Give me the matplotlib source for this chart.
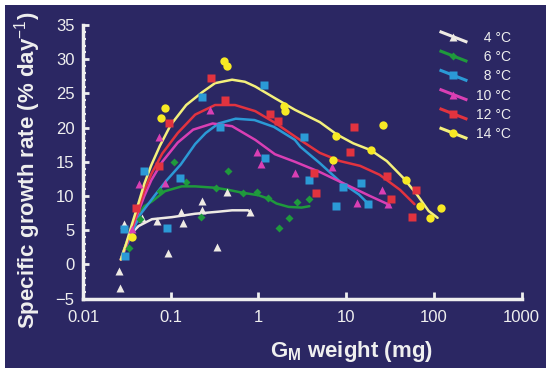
import matplotlib
matplotlib.use("Agg")
import matplotlib.pyplot as plt
from matplotlib.lines import Line2D
from matplotlib.patches import Rectangle
from matplotlib.legend_handler import HandlerBase
from matplotlib.ticker import FixedLocator, FixedFormatter, MultipleLocator

plt.rcParams['font.family'] = ['Liberation Sans', 'DejaVu Sans']
plt.rcParams['mathtext.fontset'] = 'custom'
plt.rcParams['mathtext.rm'] = 'Liberation Sans'
plt.rcParams['mathtext.bf'] = 'Liberation Sans:bold'

# ---- data: points (x in mg, growth in % per day) ----
x4 = [0.0264, 0.0258, 0.0296, 0.0467, 0.069, 0.092, 0.131, 0.139, 0.225, 0.225, 0.334, 0.435, 0.80]
y4 = [-3.4, -1.0, 5.9, 6.8, 6.3, 1.7, 7.6, 6.0, 9.3, 8.0, 2.6, 10.6, 7.7]
x6 = [0.0337, 0.045, 0.0745, 0.11, 0.15, 0.222, 0.326, 0.454, 0.665, 0.96, 1.27, 1.72, 2.2, 2.78, 3.75]
y6 = [2.4, 6.6, 10.7, 14.9, 12.1, 6.9, 11.2, 13.6, 10.4, 10.6, 9.65, 5.3, 6.75, 9.1, 9.6]
x8 = [0.030, 0.0296, 0.049, 0.09, 0.128, 0.23, 0.36, 1.15, 1.19, 3.3, 3.8, 7.7, 9.3, 14.8, 17.9]
y8 = [1.2, 5.1, 13.6, 5.3, 12.6, 24.5, 20.1, 26.2, 15.5, 18.6, 12.4, 8.6, 11.3, 11.9, 8.75]
x10 = [0.0365, 0.044, 0.073, 0.086, 0.28, 0.95, 1.06, 2.6, 6.8, 13.1, 25.4, 30.3]
y10 = [5.2, 11.8, 18.6, 11.9, 22.5, 16.4, 14.7, 13.4, 14.2, 8.9, 10.8, 8.8]
x12 = [0.040, 0.074, 0.096, 0.29, 0.41, 1.36, 1.68, 4.3, 4.5, 10.9, 12.4, 29, 32, 56, 63]
y12 = [8.2, 14.4, 20.7, 27.2, 24.1, 22.0, 20.9, 13.3, 10.4, 16.4, 20.1, 12.9, 9.6, 6.9, 10.9]
x14 = [0.0365, 0.077, 0.086, 0.40, 0.435, 1.97, 2.03, 7.0, 7.7, 19.1, 26.5, 48, 69, 91, 120]
y14 = [4.0, 21.4, 22.8, 29.8, 29.0, 23.2, 22.4, 15.2, 18.8, 16.7, 20.4, 12.3, 8.6, 6.8, 8.3]

# ---- fitted curves ----
fx4 = [0.027, 0.029, 0.032, 0.036, 0.043, 0.061, 0.103, 0.19, 0.35, 0.5, 0.76, 0.8]
fy4 = [0.7, 1.9, 3.4, 4.6, 5.6, 6.6, 6.9, 7.4, 7.7, 7.9, 7.9, 7.7]
fx6 = [0.027, 0.032, 0.038, 0.043, 0.05, 0.061, 0.086, 0.133, 0.19, 0.32, 0.45, 0.64, 1.0, 1.3, 1.6, 2.2, 3.1, 3.8]
fy6 = [0.7, 3.5, 5.8, 7.3, 8.5, 9.2, 10.7, 11.4, 11.4, 11.2, 10.9, 10.5, 10.1, 9.6, 8.9, 8.4, 8.3, 8.5]
fx8 = [0.027, 0.031, 0.036, 0.045, 0.065, 0.09, 0.13, 0.19, 0.25, 0.35, 0.55, 0.9, 1.5, 2.6, 3.0, 5.0, 8.5, 14, 18]
fy8 = [0.7, 2.5, 4.6, 7.3, 10.0, 12.3, 14.6, 17.6, 19.2, 20.6, 21.3, 21.1, 20.1, 18.2, 17.2, 14.8, 12.1, 10.2, 8.8]
fx10 = [0.027, 0.031, 0.036, 0.043, 0.05, 0.06, 0.08, 0.12, 0.18, 0.3, 0.5, 0.92, 1.54, 2.6, 5, 11, 18.6, 31]
fy10 = [0.7, 2.7, 5.0, 7.8, 10.0, 12.3, 15.0, 17.8, 19.7, 20.6, 20.2, 18.2, 16.1, 15.0, 13.5, 11.4, 10.0, 8.7]
fx12 = [0.027, 0.031, 0.036, 0.043, 0.05, 0.06, 0.08, 0.12, 0.19, 0.32, 0.54, 0.92, 1.54, 2.6, 5, 8.5, 14.4, 24, 41, 60]
fy12 = [0.7, 2.8, 5.3, 8.3, 10.8, 13.2, 16.2, 19.2, 21.9, 23.3, 23.3, 22.4, 20.7, 18.7, 16.3, 15.1, 14.4, 13.1, 10.9, 8.8]
fx14 = [0.027, 0.031, 0.036, 0.043, 0.05, 0.06, 0.075, 0.1, 0.15, 0.23, 0.32, 0.5, 0.7, 0.92, 1.54, 2.6, 5, 7.8, 12, 19, 29, 45, 64, 87, 110]
fy14 = [0.7, 3.0, 5.8, 9.0, 11.8, 14.5, 17.3, 20.4, 23.3, 25.2, 26.5, 27.0, 26.7, 26.0, 24.3, 22.6, 20.8, 19.0, 17.7, 16.7, 15.1, 12.6, 10.2, 7.8, 6.8]

labels = ['\u20074 °C', '\u20076 °C', '\u20078 °C', '10 °C', '12 °C', '14 °C']
line_cols = ['#eeeae4', '#1f9a3c', '#2b9ad6', '#d93fb4', '#e2333f', '#f4f07c']
mark_cols = ['#eeeae4', '#1f9a3c', '#2b9ad6', '#d93fb4', '#e2333f', '#f7e924']
markers = ['^', 'D', 's', '^', 's', 'o']
msizes = [5.5, 4.5, 5.5, 5.5, 5.5, 6]

bg = '#2b2763'
fg = '#efefef'

points = [(x4, y4), (x6, y6), (x8, y8), (x10, y10), (x12, y12), (x14, y14)]
fits = [(fx4, fy4), (fx6, fy6), (fx8, fy8), (fx10, fy10), (fx12, fy12), (fx14, fy14)]


class SlantLine(HandlerBase):
    # legend handle: short line sloping down to the right, marker in the middle
    def create_artists(self, legend, orig_handle, xdescent, ydescent, width, height, fontsize, trans):
        x0, x1 = -xdescent, -xdescent + width
        y0, y1 = -ydescent + height * 1.0, -ydescent + height * 0.0
        line = Line2D([x0, x1], [y0, y1], color=orig_handle.get_color(),
                      lw=orig_handle.get_linewidth(), transform=trans)
        mk = Line2D([(x0 + x1) / 2], [(y0 + y1) / 2], ls='none', marker=orig_handle.get_marker(),
                    ms=orig_handle.get_markersize(), mfc=orig_handle.get_markerfacecolor(),
                    mec='none', transform=trans)
        return [line, mk]


fig = plt.figure(figsize=(5.48, 3.70), dpi=100, facecolor='white')
fig.patches.append(Rectangle((5 / 548, 2 / 370), 541 / 548, 363 / 370, transform=fig.transFigure,
                             facecolor=bg, edgecolor='none', zorder=-10))
ax = fig.add_axes([0.1515, 0.1932, 0.8005, 0.7392])
ax.set_facecolor(bg)

handles = []
for i in range(6):
    ax.plot(fits[i][0], fits[i][1], color=line_cols[i], lw=1.8, zorder=2, solid_capstyle='round')
    ax.plot(points[i][0], points[i][1], ls='none', marker=markers[i], ms=msizes[i],
            color=mark_cols[i], mec='none', zorder=3)
    handles.append(Line2D([], [], color=line_cols[i], lw=2.2, marker=markers[i], ms=msizes[i],
                          mfc=mark_cols[i], mec='none'))

ax.set_xscale('log')
ax.set_xlim(0.01, 1000)
ax.set_ylim(-5, 35)

for s in ['top', 'right']:
    ax.spines[s].set_visible(False)
for s in ['left', 'bottom']:
    ax.spines[s].set_color(fg)
    ax.spines[s].set_linewidth(2.5)

xt = [0.01, 0.1, 1, 10, 100, 1000]
ax.xaxis.set_major_locator(FixedLocator(xt))
ax.xaxis.set_major_formatter(FixedFormatter(['0.01', '0.1', '1', '10', '100', '1000']))
ax.xaxis.set_minor_locator(FixedLocator([]))
ax.yaxis.set_major_locator(MultipleLocator(5))
ax.yaxis.set_minor_locator(MultipleLocator(1))
ax.tick_params(axis='x', which='major', direction='in', length=5, width=2, color=fg,
               labelcolor=fg, labelsize=12, pad=8)
ax.tick_params(axis='y', which='major', direction='in', length=4, width=2, color=fg,
               labelcolor=fg, labelsize=12, pad=6)
ax.tick_params(axis='y', which='minor', direction='in', length=2.5, width=1.5, color=fg)

ax.set_ylabel('Specific growth rate (% day$^{-1}$)', color=fg, fontsize=16, fontweight='bold')
ax.yaxis.set_label_coords(-0.091, 0.468)
ax.set_xlabel('G$_\\mathregular{M}$ weight (mg)', color=fg, fontsize=16, fontweight='bold')
ax.xaxis.set_label_coords(0.613, -0.148)

leg = ax.legend(handles, labels, loc='upper right', bbox_to_anchor=(1.005, 1.025), frameon=False,
                fontsize=10, labelcolor=fg, handlelength=1.8, handletextpad=0.75, labelspacing=0.38,
                handler_map={Line2D: SlantLine()})

fig.savefig('out.png', dpi=100, facecolor='white')
